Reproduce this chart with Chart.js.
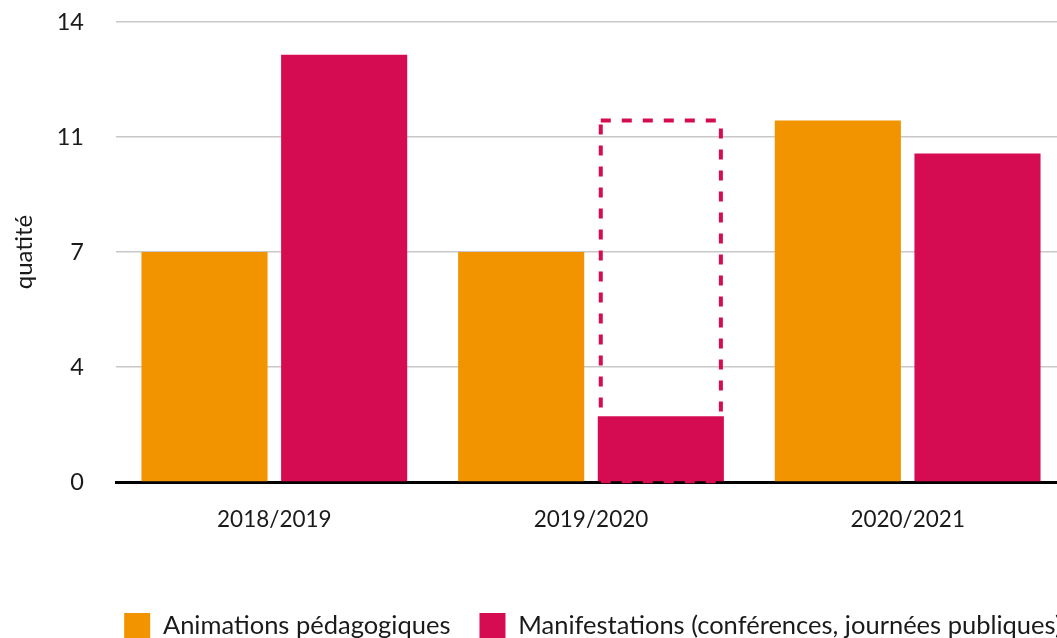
<!DOCTYPE html>
<html lang="fr">
<head>
<meta charset="UTF-8">
<title>Animations et manifestations</title>
<script src="https://cdn.jsdelivr.net/npm/chart.js@4.4.0/dist/chart.umd.min.js"></script>
<style>
    html, body { margin: 0; padding: 0; overflow: hidden; background: #fff; }
</style>
</head>
<body>
<canvas id="myChart" width="1182" height="649"></canvas>
<script>
    const saisons = ['2018/2019', '2019/2020', '2020/2021'];
    const animations = [7, 7, 11];
    const manifestations = [13, 2, 10];
    const manifPrevues = [null, 11, null];   // cadre pointillé
    const yTicks = [0, 3.5, 7, 10.5, 14];
    const yTickLabels = ['0', '4', '7', '11', '14'];

    const ORANGE = '#f29400';
    const ROUGE = '#d50c52';
    const TEXTE = '#1a1a1a';

    // cadre en pointillés, dessiné sous les barres
    const dashedBox = {
        id: 'dashedBox',
        beforeDatasetsDraw(chart) {
            const meta = chart.getDatasetMeta(2);
            const ctx = chart.ctx;
            ctx.save();
            ctx.strokeStyle = ROUGE;
            ctx.lineWidth = 4;
            ctx.setLineDash([10, 11]);
            meta.data.forEach((bar, i) => {
                if (manifPrevues[i] == null) return;
                const p = bar.getProps(['x', 'y', 'base', 'width'], true);
                const l = p.x - p.width / 2 + 3;
                const r = p.x + p.width / 2 - 3;
                const t = p.y;
                const b = p.base;
                ctx.beginPath();
                ctx.moveTo(l, t); ctx.lineTo(r, t);
                ctx.moveTo(l, t + 4); ctx.lineTo(l, b);
                ctx.moveTo(r, t + 8); ctx.lineTo(r, b);
                ctx.moveTo(l, b); ctx.lineTo(r, b);
                ctx.stroke();
            });
            ctx.restore();
        }
    };

    // la légende est centrée sur toute la largeur d'origine, pas sur la zone du graphique
    const legendShift = {
        id: 'legendShift',
        afterLayout(chart) {
            chart.legend.left += 60;
            chart.legend.right += 60;
        }
    };

    const data = {
        labels: saisons,
        datasets: [
            {
                label: 'Animations pédagogiques',
                data: animations,
                backgroundColor: ORANGE,
                stack: 'a'
            },
            {
                label: 'Manifestations (conférences, journées publiques)',
                data: manifestations,
                backgroundColor: ROUGE,
                stack: 'm'
            },
            {
                label: '',
                data: manifPrevues,
                backgroundColor: 'rgba(0,0,0,0)',
                stack: 'm'
            }
        ]
    };

    const ctx = document.getElementById('myChart').getContext('2d');
    const myChart = new Chart(ctx, {
        type: 'bar',
        data: data,
        plugins: [dashedBox, legendShift],
        options: {
            responsive: false,
            animation: false,
            categoryPercentage: 0.882,
            barPercentage: 0.903,
            layout: {
                padding: { top: 22, right: 116, left: 0, bottom: 0 }
            },
            plugins: {
                tooltip: { enabled: false },
                legend: {
                    position: 'bottom',
                    labels: {
                        boxWidth: 26,
                        boxHeight: 26,
                        padding: 29,
                        color: TEXTE,
                        font: { family: 'Lato', size: 25.5 },
                        filter: (item) => item.datasetIndex < 2
                    }
                }
            },
            scales: {
                x: {
                    stacked: true,
                    grid: { display: false },
                    border: { display: true, color: '#000', width: 3 },
                    ticks: {
                        color: TEXTE,
                        padding: 16,
                        font: { family: 'Lato', size: 22.5 }
                    },
                    afterFit: (scale) => { scale.height = 102; }
                },
                y: {
                    stacked: false,
                    min: 0,
                    max: 14,
                    afterBuildTicks: (scale) => {
                        scale.ticks = yTicks.map(v => ({ value: v }));
                    },
                    afterFit: (scale) => {
                        scale.width = 116;
                        scale.paddingTop = 0;
                        scale.paddingBottom = 0;
                    },
                    grid: {
                        drawTicks: false,
                        color: (c) => c.tick && c.tick.value === 0 ? 'rgba(0,0,0,0)' : '#c8c8c8',
                        lineWidth: 1.5
                    },
                    border: { display: false },
                    ticks: {
                        color: TEXTE,
                        padding: 32,
                        font: { family: 'Lato', size: 23.5 },
                        callback: (v, i) => yTickLabels[i]
                    },
                    title: {
                        display: true,
                        text: 'quatité',
                        color: TEXTE,
                        font: { family: 'Lato', size: 24 },
                        padding: { top: 10, bottom: 0 }
                    }
                }
            }
        }
    });
</script>
</body>
</html>
